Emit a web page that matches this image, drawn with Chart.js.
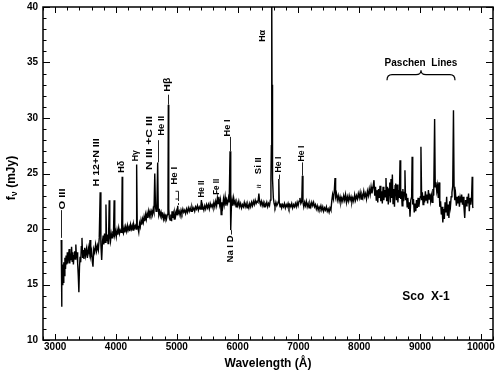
<!DOCTYPE html>
<html>
<head>
<meta charset="utf-8">
<script src="https://cdn.jsdelivr.net/npm/chart.js@4.4.1/dist/chart.umd.min.js"></script>
<style>
  html, body { margin: 0; padding: 0; background: #fff; }
  #wrap { width: 500px; height: 375px; }
</style>
</head>
<body>
<div id="wrap"><canvas id="chart" width="500" height="375"></canvas></div>
<script>
// Sco X-1 optical spectrum, flux density f_nu (mJy) vs wavelength (A).
// Values, [wavelength, flux] pairs.

const specUV = [
    [3100, 19.0], [3106, 13.0], [3112, 16.0], [3118, 15.0], [3126, 16.8], [3134, 15.2],
    [3142, 17.0], [3150, 15.8], [3160, 17.4], [3170, 16.4], [3180, 17.6], [3190, 16.8],
    [3200, 17.9], [3210, 16.9], [3220, 17.5], [3230, 18.2], [3240, 16.9], [3250, 17.8],
    [3260, 17.2], [3270, 18.4], [3280, 17.1], [3290, 17.9], [3300, 16.8], [3310, 17.6],
    [3320, 18.0], [3330, 17.3], [3340, 18.6], [3350, 17.4], [3360, 17.9], [3370, 16.9],
    [3380, 15.8], [3390, 14.3], [3400, 16.6], [3410, 17.5], [3420, 17.0], [3430, 18.4],
    [3441, 19.2], [3452, 17.4], [3463, 18.1], [3474, 17.3], [3486, 18.3], [3500, 17.6],
    [3515, 18.2], [3530, 17.4], [3545, 18.3], [3560, 17.8], [3573, 19.0], [3585, 17.6],
    [3600, 18.0], [3612, 17.0], [3622, 16.6], [3635, 18.2], [3650, 17.9], [3665, 18.6],
    [3680, 18.0], [3695, 18.5], [3710, 18.1], [3725, 19.2],
];

const specBlue = [
    [3740, 23.3], [3752, 18.6], [3765, 17.2], [3778, 18.9], [3790, 19.4], [3800, 18.6],
    [3812, 19.6], [3822, 18.8], [3835, 22.2], [3846, 18.9], [3858, 19.5], [3870, 18.7],
    [3880, 19.8], [3889, 22.6], [3898, 19.4], [3910, 18.9], [3922, 19.6], [3935, 19.2],
    [3948, 19.8], [3958, 19.3], [3970, 22.6], [3980, 19.5], [3992, 19.8], [4005, 19.3],
    [4018, 19.9], [4030, 19.5], [4045, 20.1], [4058, 19.6], [4070, 19.9], [4085, 19.7],
    [4095, 20.3], [4102, 24.7], [4110, 19.8], [4122, 19.6], [4135, 20.1], [4148, 19.7],
    [4160, 20.2], [4175, 19.8], [4188, 20.3], [4200, 19.9], [4215, 20.2], [4228, 19.8],
    [4240, 20.4], [4255, 20.0], [4268, 20.3], [4280, 19.9], [4292, 20.4], [4305, 20.1],
    [4318, 20.3], [4330, 20.0], [4340, 25.8], [4350, 20.3], [4362, 20.1], [4375, 19.7],
    [4388, 20.5], [4400, 20.2], [4412, 20.8], [4425, 20.4], [4438, 20.9], [4450, 20.6],
    [4462, 21.1], [4475, 20.7], [4488, 21.3], [4500, 20.9], [4512, 21.4], [4525, 21.0],
    [4538, 21.6], [4550, 21.2], [4562, 21.6], [4575, 21.3], [4588, 21.6], [4600, 21.3],
    [4612, 21.8], [4625, 21.5], [4638, 25.0], [4650, 22.0], [4660, 21.6], [4672, 21.9],
    [4686, 26.0], [4695, 21.8], [4705, 21.3], [4718, 21.6], [4730, 21.2], [4742, 21.5],
    [4755, 21.1], [4768, 21.3], [4780, 20.9], [4792, 21.3], [4805, 21.0], [4818, 21.2],
    [4830, 20.9], [4845, 21.3], [4855, 22.0], [4861, 31.2], [4868, 21.8], [4878, 21.0],
    [4890, 20.8], [4902, 21.3], [4915, 20.7], [4922, 21.6], [4932, 21.0], [4945, 21.4],
    [4958, 20.9], [4970, 21.5], [4982, 21.2], [4995, 21.6],
];

const specGreen = [
    [5005, 21.3], [5015, 22.1], [5025, 21.4], [5040, 21.6], [5055, 21.2], [5070, 21.7],
    [5085, 21.4], [5100, 21.8], [5115, 21.5], [5130, 21.7], [5145, 21.4], [5160, 21.8],
    [5175, 21.5], [5190, 21.9], [5205, 21.6], [5220, 21.9], [5235, 21.6], [5250, 22.0],
    [5265, 21.7], [5280, 21.9], [5295, 21.6], [5310, 22.0], [5325, 21.8], [5340, 22.1],
    [5355, 21.7], [5370, 22.0], [5385, 21.8], [5395, 22.0], [5405, 22.6], [5415, 21.8],
    [5430, 22.0], [5445, 21.7], [5460, 22.1], [5475, 21.8], [5490, 22.2], [5505, 21.9],
    [5520, 22.2], [5535, 21.8], [5550, 22.3], [5565, 22.0], [5580, 22.2], [5595, 21.9],
    [5610, 22.4], [5625, 22.0], [5640, 22.5], [5655, 22.1], [5668, 22.8], [5680, 22.3],
    [5692, 22.9], [5705, 22.2], [5718, 22.6], [5730, 21.3], [5742, 22.4], [5755, 22.0],
    [5768, 22.7], [5780, 22.2], [5795, 22.9], [5808, 22.1], [5820, 22.6], [5835, 22.3],
    [5850, 22.8], [5862, 22.4], [5876, 27.0], [5884, 22.3], [5890, 19.9], [5898, 22.0],
    [5910, 22.6], [5922, 22.1], [5935, 22.8], [5948, 22.3], [5960, 22.5], [5975, 22.0],
    [5990, 22.4], [6005, 22.1], [6020, 22.5], [6035, 22.0], [6050, 22.3], [6065, 21.9],
    [6080, 22.2], [6095, 22.0], [6110, 22.4], [6125, 22.0], [6140, 22.3], [6155, 21.9],
    [6170, 22.2], [6185, 21.9], [6200, 22.3], [6215, 22.0], [6230, 22.4], [6245, 22.1],
    [6260, 22.5], [6275, 22.2], [6290, 22.6], [6305, 22.3], [6320, 22.5], [6335, 22.4],
    [6350, 23.2], [6362, 22.5], [6375, 22.2], [6390, 22.5], [6405, 22.1], [6420, 22.4],
    [6435, 22.0], [6450, 22.3], [6465, 22.1], [6480, 22.4], [6495, 22.0],
];

const specRed = [
    [6510, 22.3], [6525, 22.1], [6538, 22.6], [6548, 24.5], [6555, 27.5], [6560, 33.0],
    [6563, 41.5], [6566, 33.0], [6571, 27.0], [6578, 24.5], [6588, 22.8], [6600, 22.3],
    [6615, 22.0], [6630, 22.4], [6645, 22.1], [6660, 22.3], [6672, 22.5], [6678, 24.5],
    [6685, 22.4], [6698, 22.0], [6712, 22.3], [6725, 21.9], [6740, 22.2], [6755, 22.0],
    [6770, 22.3], [6785, 21.9], [6800, 22.2], [6815, 22.0], [6830, 22.3], [6845, 21.9],
    [6860, 22.2], [6875, 22.0], [6890, 22.3], [6905, 21.9], [6920, 22.2], [6935, 22.0],
    [6950, 22.3], [6965, 22.0], [6980, 22.4], [6995, 22.1], [7010, 22.5], [7025, 22.8],
    [7040, 22.3], [7055, 22.5], [7065, 24.8], [7075, 22.4], [7088, 22.0], [7100, 22.4],
    [7115, 22.1], [7130, 22.5], [7145, 22.0], [7160, 22.3], [7175, 21.9], [7190, 22.3],
    [7205, 22.0], [7220, 22.4], [7235, 22.1], [7250, 22.4], [7265, 22.0], [7280, 22.2],
    [7295, 21.8], [7310, 22.1], [7325, 21.7], [7340, 22.0], [7355, 21.8], [7370, 22.1],
    [7385, 21.7], [7400, 22.0], [7415, 21.6], [7430, 21.9], [7445, 21.7], [7460, 22.0],
    [7475, 21.6], [7490, 21.8], [7505, 21.5], [7520, 21.9], [7535, 21.7],
];

const specIR = [
    [7550, 22.6], [7562, 23.1], [7575, 22.7], [7590, 23.4], [7602, 24.6], [7612, 22.9],
    [7625, 23.2], [7640, 22.6], [7655, 23.0], [7670, 22.5], [7685, 22.9], [7700, 22.4],
    [7715, 22.8], [7730, 22.5], [7745, 23.0], [7760, 22.6], [7775, 23.1], [7790, 22.4],
    [7805, 22.9], [7820, 22.5], [7835, 23.0], [7850, 22.6], [7865, 22.9], [7880, 22.4],
    [7895, 22.8], [7910, 22.5], [7925, 23.1], [7940, 22.6], [7955, 23.0], [7970, 22.7],
    [7985, 23.2], [8000, 22.8], [8015, 23.3], [8030, 22.7], [8045, 23.1], [8060, 22.8],
    [8075, 23.4], [8090, 22.9], [8105, 23.2], [8120, 22.7], [8135, 23.4], [8150, 23.0],
    [8165, 23.6], [8180, 23.1], [8195, 23.8], [8210, 23.2], [8225, 23.7], [8243, 24.4],
    [8255, 23.0], [8268, 23.8], [8280, 22.6], [8292, 23.5], [8305, 22.4], [8318, 23.6],
    [8330, 22.8], [8342, 23.9], [8355, 22.5], [8368, 23.4], [8380, 22.3], [8392, 23.8],
    [8405, 22.6], [8418, 23.5], [8430, 22.9], [8440, 24.6], [8452, 22.5], [8465, 23.8],
    [8478, 22.2], [8490, 23.6], [8502, 24.2], [8512, 22.4], [8523, 24.5], [8535, 22.8],
    [8545, 24.9], [8556, 22.3], [8568, 23.6], [8580, 22.0], [8590, 23.9], [8600, 24.1],
    [8612, 22.6], [8624, 24.0], [8636, 22.4], [8648, 23.5], [8660, 22.8], [8671, 26.2],
    [8682, 22.7], [8694, 23.4], [8706, 22.1], [8718, 23.6], [8730, 22.5], [8742, 23.3],
    [8752, 25.3], [8762, 22.6], [8775, 23.2], [8788, 22.0], [8800, 22.8], [8812, 21.8],
    [8825, 22.4], [8835, 21.1], [8848, 22.6], [8862, 22.9], [8870, 26.5], [8880, 22.2],
    [8892, 22.7], [8905, 21.5], [8918, 22.3], [8930, 21.6], [8942, 22.6], [8955, 21.9],
    [8968, 22.8], [8980, 22.0], [8992, 22.5], [9005, 22.9], [9015, 27.4], [9027, 22.6],
    [9038, 23.3], [9050, 22.2], [9062, 23.0], [9075, 22.4], [9088, 23.4], [9100, 22.6],
    [9112, 23.1], [9125, 22.3], [9138, 23.5], [9150, 22.7], [9162, 23.2], [9175, 22.5],
    [9188, 23.0], [9200, 22.4], [9212, 23.6], [9225, 23.0], [9240, 29.9], [9250, 23.8],
    [9262, 24.2], [9275, 23.4], [9288, 23.9], [9300, 22.8], [9312, 24.2], [9325, 22.0],
    [9338, 22.5], [9350, 21.3], [9362, 22.0], [9375, 20.6], [9388, 21.8], [9400, 20.9],
    [9412, 22.4], [9425, 21.5], [9438, 22.9], [9450, 21.2], [9462, 22.2], [9475, 21.0],
    [9488, 22.5], [9500, 22.0], [9512, 22.9], [9525, 23.3], [9538, 23.9], [9550, 30.7],
    [9560, 23.8], [9572, 22.6], [9585, 23.1], [9598, 22.1], [9610, 22.9], [9622, 22.3],
    [9635, 23.0], [9648, 22.0], [9660, 22.8], [9672, 22.4], [9685, 23.1], [9698, 22.2],
    [9710, 22.9], [9722, 22.0], [9735, 21.0], [9748, 22.6], [9760, 22.1], [9772, 22.9],
    [9785, 22.3], [9798, 23.2], [9810, 21.6], [9822, 22.8], [9835, 22.2], [9848, 22.9],
    [9858, 24.7], [9866, 22.0], [9872, 21.9],
];

const xTicks = [3000, 4000, 5000, 6000, 7000, 8000, 9000, 10000];
const yTicks = [10, 15, 20, 25, 30, 35, 40];

// Line identifications: text centre (wavelength, flux), printed length in px,
// optional marker line [wl, from, to].
const lineIds = [
    { t: 'O III', x: 3121, y: 22.7, len: 21, line: [3104, 21.7, 19.2] },
    { t: 'H 12+N III', x: 3688, y: 26.0, len: 48 },
    { t: 'Hδ', x: 4099, y: 25.6, len: 12 },
    { t: 'Hγ', x: 4321, y: 26.6, len: 11 },
    { t: 'N III +C III', x: 4559, y: 27.75, len: 54 },
    { t: 'He II', x: 4752, y: 29.3, len: 20, line: [4686, 28.0, 26.0] },
    { t: 'Hβ', x: 4856, y: 33.0, len: 14, line: [4861, 32.1, 31.2] },
    { t: 'He I', x: 4962, y: 24.8, len: 18 },
    { t: 'He II', x: 5406, y: 23.6, len: 17 },
    { t: 'Fe II', x: 5661, y: 23.8, len: 16 },
    { t: 'He I', x: 5842, y: 29.1, len: 17, line: [5876, 28.3, 27.0] },
    { t: 'Na I D', x: 5892, y: 18.2, len: 27, line: [5890, 19.5, 19.9] },
    { t: 'Si II', x: 6352, y: 25.7, len: 17 },
    { t: 'Hα', x: 6418, y: 37.4, len: 12 },
    { t: 'He I', x: 6681, y: 25.8, len: 16, line: [6678, 24.9, 24.5] },
    { t: 'He I', x: 7059, y: 26.8, len: 16, line: [7065, 26.0, 24.8] },
];

const FONT = "'Liberation Sans', Arial, Helvetica, sans-serif";

const spectrum = [...specUV, ...specBlue, ...specGreen, ...specRed, ...specIR]
    .map(([x, y]) => ({ x, y }));

// vertical (bottom-to-top) label, stretched to the printed length
function vText(ctx, text, x, y, font, len) {
    ctx.save();
    ctx.translate(x, y);
    ctx.rotate(-Math.PI / 2);
    ctx.font = font;
    if (len) ctx.scale(len / ctx.measureText(text).width, 1);
    ctx.textAlign = 'center';
    ctx.textBaseline = 'middle';
    ctx.fillText(text, 0, 0);
    ctx.restore();
}

// annotations: line ids, bracket, Paschen brace, object name, axis titles
const annotations = {
    id: 'annotations',
    afterDatasetsDraw(chart) {
        const { ctx, scales: { x, y } } = chart;
        const X = (v) => x.getPixelForValue(v);
        const Y = (v) => y.getPixelForValue(v);
        ctx.save();
        ctx.fillStyle = '#000';
        ctx.strokeStyle = '#222';
        ctx.lineWidth = 1;

        for (const id of lineIds) {
            vText(ctx, id.t, X(id.x), Y(id.y), `bold 8.5px ${FONT}`, id.len);
            if (id.line) {
                const lx = Math.round(X(id.line[0])) + 0.5;
                ctx.beginPath();
                ctx.moveTo(lx, Y(id.line[1]));
                ctx.lineTo(lx, Y(id.line[2]));
                ctx.stroke();
            }
        }

        // bracket + dashed marker under the 4922/5015 He I label
        const bx = Math.round(X(5015)) + 0.5;
        ctx.beginPath();
        ctx.moveTo(bx - 3, Y(23.4)); ctx.lineTo(bx, Y(23.4));
        ctx.lineTo(bx, Y(22.7)); ctx.lineTo(bx - 3, Y(22.7));
        ctx.stroke();
        ctx.setLineDash([2, 2]);
        ctx.beginPath();
        ctx.moveTo(bx, Y(22.7)); ctx.lineTo(bx, Y(22.1));
        ctx.stroke();
        ctx.setLineDash([]);

        // Si II small mark
        ctx.font = `bold 8px ${FONT}`;
        ctx.textAlign = 'center';
        ctx.textBaseline = 'middle';
        ctx.fillText('≈', X(6352), Y(23.8));

        // Paschen Lines + brace
        ctx.font = `bold 10px ${FONT}`;
        ctx.fillText('Paschen  Lines', X(9016), Y(34.9));
        const l = X(8457), r = X(9575), m = X(9016);
        const yEnd = Y(33.4), yBar = Y(33.9), yTip = Y(34.3);
        ctx.strokeStyle = '#000';
        ctx.lineWidth = 1.2;
        ctx.beginPath();
        ctx.moveTo(l, yEnd);
        ctx.quadraticCurveTo(l, yBar, l + 5, yBar);
        ctx.lineTo(m - 5, yBar);
        ctx.quadraticCurveTo(m, yBar, m, yTip);
        ctx.quadraticCurveTo(m, yBar, m + 5, yBar);
        ctx.lineTo(r - 5, yBar);
        ctx.quadraticCurveTo(r, yBar, r, yEnd);
        ctx.stroke();

        // object name
        ctx.font = `bold 12px ${FONT}`;
        ctx.fillText('Sco  X-1', X(9098), Y(13.9));
        ctx.restore();
    },
    afterDraw(chart) {
        const { ctx, chartArea: a, scales: { x, y } } = chart;
        ctx.save();
        ctx.strokeStyle = '#000';
        ctx.fillStyle = '#000';

        // frame
        ctx.lineWidth = 1.5;
        ctx.strokeRect(a.left, a.top, a.right - a.left, a.bottom - a.top);

        // inward ticks on all four sides
        ctx.lineWidth = 1;
        ctx.beginPath();
        for (let v = 2800; v <= 10200; v += 200) {
            const px = Math.round(x.getPixelForValue(v)) + 0.5;
            const len = v % 1000 === 0 ? 6 : 3.5;
            ctx.moveTo(px, a.bottom); ctx.lineTo(px, a.bottom - len);
            ctx.moveTo(px, a.top); ctx.lineTo(px, a.top + len);
        }
        for (let v = 10; v <= 40; v += 1) {
            const py = Math.round(y.getPixelForValue(v)) + 0.5;
            const len = v % 5 === 0 ? 7 : 3.5;
            ctx.moveTo(a.left, py); ctx.lineTo(a.left + len, py);
            ctx.moveTo(a.right, py); ctx.lineTo(a.right - len, py);
        }
        ctx.stroke();

        // x title
        ctx.font = `bold 12px ${FONT}`;
        ctx.textAlign = 'center';
        ctx.textBaseline = 'middle';
        ctx.fillText('Wavelength (Å)', 268, 364);

        // y title: f_nu (mJy), rotated
        ctx.translate(12, 178);
        ctx.rotate(-Math.PI / 2);
        ctx.textAlign = 'left';
        const rest = ' (mJy)';
        ctx.font = `bold 9px ${FONT}`;
        const wNu = ctx.measureText('ν').width;
        ctx.font = `bold 12px ${FONT}`;
        const wF = ctx.measureText('f').width;
        const total = wF + wNu + ctx.measureText(rest).width;
        let cx = -total / 2;
        ctx.fillText('f', cx, 0);
        cx += wF;
        ctx.font = `bold 9px ${FONT}`;
        ctx.fillText('ν', cx, 3);
        cx += wNu;
        ctx.font = `bold 12px ${FONT}`;
        ctx.fillText(rest, cx, 0);
        ctx.restore();
    },
};

new Chart(document.getElementById('chart'), {
    type: 'line',
    data: {
        datasets: [{
            data: spectrum,
            borderColor: '#000',
            borderWidth: 1.4,
            pointRadius: 0,
            tension: 0,
            fill: false,
        }],
    },
    options: {
        responsive: false,
        animation: false,
        devicePixelRatio: 1,
        layout: { padding: { left: 0, top: 7, right: 7, bottom: 0 } },
        plugins: { legend: { display: false }, tooltip: { enabled: false } },
        scales: {
            x: {
                type: 'linear',
                min: 2800,
                max: 10200,
                afterBuildTicks: (s) => { s.ticks = xTicks.map((v) => ({ value: v })); },
                afterFit: (s) => { s.height = 35; s.paddingLeft = 0; s.paddingRight = 0; },
                grid: { display: false, drawTicks: false },
                border: { display: false },
                ticks: {
                    color: '#000',
                    padding: 1,
                    maxRotation: 0,
                    autoSkip: false,
                    font: { family: FONT, size: 10, weight: 'bold' },
                    callback: (v) => String(v),
                },
            },
            y: {
                min: 10,
                max: 40,
                afterBuildTicks: (s) => { s.ticks = yTicks.map((v) => ({ value: v })); },
                afterFit: (s) => { s.width = 43; s.paddingTop = 0; s.paddingBottom = 0; },
                grid: { display: false, drawTicks: false },
                border: { display: false },
                ticks: {
                    color: '#000',
                    padding: 5,
                    font: { family: FONT, size: 10, weight: 'bold' },
                    callback: (v) => String(v),
                },
            },
        },
    },
    plugins: [annotations],
});
</script>
</body>
</html>
